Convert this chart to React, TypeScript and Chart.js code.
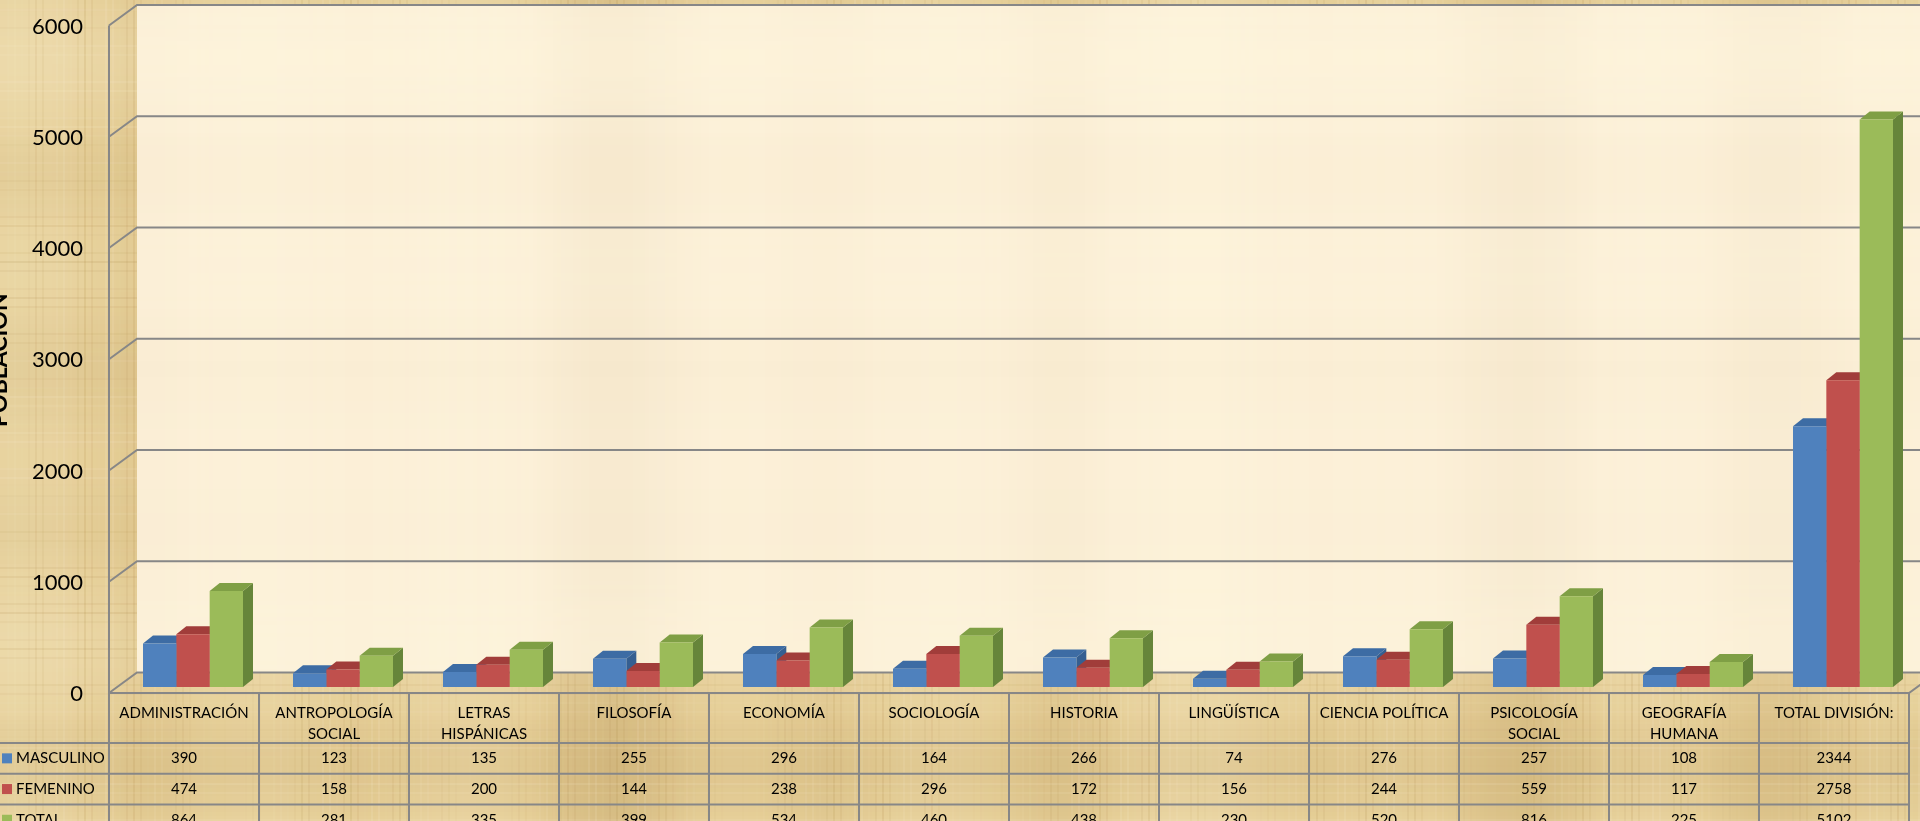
import React, { useEffect, useRef } from "react";
import { Chart, registerables } from "chart.js";

Chart.register(...registerables);

const categories = [
  "ADMINISTRACIÓN",
  "ANTROPOLOGÍA\nSOCIAL",
  "LETRAS\nHISPÁNICAS",
  "FILOSOFÍA",
  "ECONOMÍA",
  "SOCIOLOGÍA",
  "HISTORIA",
  "LINGÜÍSTICA",
  "CIENCIA POLÍTICA",
  "PSICOLOGÍA\nSOCIAL",
  "GEOGRAFÍA\nHUMANA",
  "TOTAL DIVISIÓN:",
];
const seriesNames = ["MASCULINO", "FEMENINO", "TOTAL"];
const masculino = [390, 123, 135, 255, 296, 164, 266, 74, 276, 257, 108, 2344];
const femenino = [474, 158, 200, 144, 238, 296, 172, 156, 244, 559, 117, 2758];
const total = [864, 281, 335, 399, 534, 460, 438, 230, 520, 816, 225, 5102];
const yTicks = [0, 1000, 2000, 3000, 4000, 5000, 6000];
const axisTitle = "POBLACIÓN";

const W = 1920;
const H = 821;
const FONT = "Lato, 'Noto Sans', sans-serif";
const frontColors = ["#4F81BD", "#C0504D", "#9BBB59"];
const topColors = ["#3D6CA4", "#A13D3A", "#7F9F45"];
const sideColors = ["#355F91", "#8C3432", "#66853A"];
const GRID = "#878787";
// plane offsets relative to the bar plane
const FRONT_DX = -9, FRONT_DY = 6;
const BACK_DX = 19, BACK_DY = -14.5;
const BAR_DX = 10, BAR_DY = -8;
const HEADER_H = 50;
const ROW_H = 30.7;

function parchment(ctx: CanvasRenderingContext2D, x: number, y: number, w: number, h: number, base: string, lightA: number, darkA: number, fiberA: number) {
  ctx.save();
  ctx.beginPath();
  ctx.rect(x, y, w, h);
  ctx.clip();
  ctx.fillStyle = base;
  ctx.fillRect(x, y, w, h);
  const tone = (s: number, la: number, da: number) =>
    s > 0 ? `rgba(255,247,222,${(la * s).toFixed(3)})` : `rgba(160,120,55,${(da * -s).toFixed(3)})`;
  for (let i = 0; i < w; i += 4) {
    const s = 0.6 * Math.sin((x + i) * 0.011 + 0.7) * Math.sin((x + i) * 0.0043 + 2.2) + 0.4 * Math.sin((x + i) * 0.027 + 1.1);
    ctx.fillStyle = tone(s, lightA, darkA);
    ctx.fillRect(x + i, y, 4, h);
  }
  for (let j = 0; j < h; j += 4) {
    const s = 0.6 * Math.sin((y + j) * 0.017 + 0.4) * Math.sin((y + j) * 0.006 + 1.3) + 0.4 * Math.sin((y + j) * 0.031);
    ctx.fillStyle = tone(s, lightA * 0.8, darkA * 0.8);
    ctx.fillRect(x, y + j, w, 4);
  }
  for (let i = 0; i < w; i += 7) {
    const s = Math.sin((x + i) * 0.91 + 0.3) * Math.sin((x + i) * 0.13);
    ctx.fillStyle = tone(s, fiberA, fiberA);
    ctx.fillRect(x + i, y, 2, h);
  }
  for (let j = 0; j < h; j += 9) {
    const s = Math.sin((y + j) * 0.77 + 1.7) * Math.sin((y + j) * 0.09);
    ctx.fillStyle = tone(s, fiberA, fiberA);
    ctx.fillRect(x, y + j, w, 2);
  }
  ctx.restore();
}

const plugin3d = {
  id: "plugin3d",
  beforeDraw(chart: any) {
    const ctx: CanvasRenderingContext2D = chart.ctx;
    const y = chart.scales.y;
    const area = chart.chartArea;
    parchment(ctx, 0, 0, W, H, "#E6CF98", 0.2, 0.2, 0.12);
    const backLeft = area.left + BACK_DX;
    const bTop = y.getPixelForValue(yTicks[yTicks.length - 1]) + BACK_DY;
    const bBot = y.getPixelForValue(0) + BACK_DY;
    parchment(ctx, backLeft, bTop, W - backLeft, bBot - bTop, "#FCF1D9", 0.35, 0.05, 0.0);
    ctx.save();
    ctx.strokeStyle = GRID;
    ctx.lineWidth = 2;
    const frontLeft = area.left + FRONT_DX;
    for (const v of yTicks) {
      const p = y.getPixelForValue(v);
      ctx.beginPath();
      ctx.moveTo(frontLeft, p + FRONT_DY);
      ctx.lineTo(backLeft, p + BACK_DY);
      ctx.lineTo(W + 5, p + BACK_DY);
      ctx.stroke();
    }
    ctx.beginPath();
    ctx.moveTo(frontLeft, y.getPixelForValue(yTicks[yTicks.length - 1]) + FRONT_DY);
    ctx.lineTo(frontLeft, y.getPixelForValue(0) + FRONT_DY);
    ctx.stroke();
    ctx.restore();
  },
  beforeDatasetsDraw(chart: any) {
    const ctx: CanvasRenderingContext2D = chart.ctx;
    const n = categories.length;
    const nd = chart.data.datasets.length;
    ctx.save();
    for (let i = 0; i < n; i++) {
      for (let d = 0; d < nd; d++) {
        const el: any = chart.getDatasetMeta(d).data[i];
        const { x, y, width } = el.getProps(["x", "y", "width"], true);
        const l = x - width / 2;
        const r = x + width / 2;
        const base = el.base;
        ctx.fillStyle = sideColors[d];
        ctx.beginPath();
        ctx.moveTo(r, y);
        ctx.lineTo(r + BAR_DX, y + BAR_DY);
        ctx.lineTo(r + BAR_DX, base + BAR_DY);
        ctx.lineTo(r, base);
        ctx.closePath();
        ctx.fill();
        ctx.fillStyle = topColors[d];
        ctx.beginPath();
        ctx.moveTo(l, y);
        ctx.lineTo(l + BAR_DX, y + BAR_DY);
        ctx.lineTo(r + BAR_DX, y + BAR_DY);
        ctx.lineTo(r, y);
        ctx.closePath();
        ctx.fill();
      }
    }
    ctx.restore();
  },
  afterDraw(chart: any) {
    const ctx: CanvasRenderingContext2D = chart.ctx;
    const xs = chart.scales.x;
    const y = chart.scales.y;
    const area = chart.chartArea;
    const n = categories.length;
    const colW = xs.getPixelForValue(1) - xs.getPixelForValue(0);
    const left = xs.getPixelForValue(0) - colW / 2 + FRONT_DX;
    const right = left + colW * n;
    const top = y.getPixelForValue(0) + FRONT_DY;
    const rowsTop = top + HEADER_H;
    ctx.save();
    ctx.strokeStyle = GRID;
    ctx.lineWidth = 2;
    ctx.beginPath();
    ctx.moveTo(left, top);
    ctx.lineTo(right, top);
    ctx.lineTo(right + (BACK_DX - FRONT_DX), top + (BACK_DY - FRONT_DY));
    ctx.stroke();
    for (let k = 0; k <= n; k++) {
      const xx = left + k * colW;
      ctx.beginPath();
      ctx.moveTo(xx, top);
      ctx.lineTo(xx, H + 5);
      ctx.stroke();
    }
    for (let r = 0; r <= seriesNames.length; r++) {
      const yy = rowsTop + r * ROW_H;
      ctx.beginPath();
      ctx.moveTo(0, yy);
      ctx.lineTo(right, yy);
      ctx.stroke();
    }
    ctx.fillStyle = "#000";
    ctx.font = `15px ${FONT}`;
    ctx.textAlign = "center";
    ctx.textBaseline = "middle";
    categories.forEach((c, i) => {
      const cx = left + (i + 0.5) * colW;
      c.split("\n").forEach((ln, j) => ctx.fillText(ln, cx, top + 20 + j * 21));
    });
    const series = [masculino, femenino, total];
    series.forEach((arr, r) => {
      const cy = rowsTop + (r + 0.5) * ROW_H;
      arr.forEach((v, i) => {
        ctx.fillText(String(v), left + (i + 0.5) * colW, cy);
      });
      ctx.fillStyle = frontColors[r];
      ctx.fillRect(2, cy - 5, 10, 10);
      ctx.fillStyle = "#000";
      ctx.textAlign = "left";
      ctx.fillText(seriesNames[r], 16, cy);
      ctx.textAlign = "center";
    });
    ctx.save();
    ctx.translate(7, (area.top + area.bottom) / 2 + 7);
    ctx.rotate(-Math.PI / 2);
    ctx.font = `bold 23px ${FONT}`;
    ctx.textAlign = "center";
    ctx.textBaseline = "alphabetic";
    ctx.fillText(axisTitle, 0, 0);
    ctx.restore();
    ctx.restore();
  },
};

export default function App() {
  const ref = useRef<HTMLCanvasElement | null>(null);
  useEffect(() => {
    if (!ref.current) return;
    const chart = new Chart(ref.current, {
      type: "bar",
      data: {
        labels: categories,
        datasets: [masculino, femenino, total].map((arr, i) => ({
          label: seriesNames[i],
          data: arr,
          backgroundColor: frontColors[i],
          borderWidth: 0,
          barPercentage: 1,
          categoryPercentage: 100 / 150,
        })),
      },
      options: {
        animation: false,
        responsive: false,
        devicePixelRatio: 1,
        layout: { padding: { top: 19.5, right: 2, bottom: 134, left: 0 } },
        plugins: { legend: { display: false }, tooltip: { enabled: false }, title: { display: false } },
        scales: {
          x: { display: false },
          y: {
            min: 0,
            max: 6000,
            afterFit: (s: any) => {
              s.width = 118;
              s.paddingTop = 0;
              s.paddingBottom = 0;
            },
            afterBuildTicks: (s: any) => {
              s.ticks = yTicks.map((v) => ({ value: v }));
            },
            grid: { display: false, drawTicks: false },
            border: { display: false },
            ticks: {
              padding: 35,
              labelOffset: 7,
              color: "#000",
              font: { family: FONT, size: 22 },
              callback: (v: any) => String(v),
            },
          },
        },
      },
      plugins: [plugin3d],
    });
    return () => chart.destroy();
  }, []);
  return (
    <div style={{ position: "absolute", left: 0, top: 0, width: W, height: H, overflow: "hidden" }}>
      <canvas ref={ref} width={W} height={H} style={{ display: "block" }} />
    </div>
  );
}
